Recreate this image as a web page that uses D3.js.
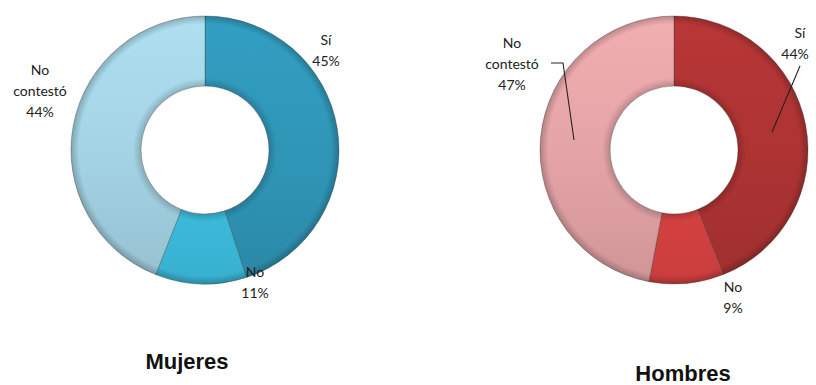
<!DOCTYPE html>
<html>
<head>
<meta charset="utf-8">
<script src="https://cdn.jsdelivr.net/npm/d3@7"></script>
<style>
  html, body { margin: 0; padding: 0; background: #fff; }
  svg { display: block; }
</style>
</head>
<body>
<svg id="chart" width="816" height="385"></svg>
<script>
// Survey answers by group
const categories = ["Sí", "No", "No contestó"];
const mujeresValues = [45, 11, 44];
const hombresValues = [44, 9, 47];
const groupTitles = ["Mujeres", "Hombres"];
const mujeresColors = ["#2f95b6", "#3dc0e2", "#a3d2e3"];
const hombresColors = ["#ad3333", "#dd4343", "#e3a3a6"];

const svg = d3.select("#chart");
const defs = svg.append("defs");

const outerR = 134, innerR = 64;
const pie = d3.pie().sort(null).value(d => d.value);
const arc = d3.arc().innerRadius(innerR).outerRadius(outerR);

// Donut layout per group
const charts = [
  {
    id: "m", title: groupTitles[0], values: mujeresValues, colors: mujeresColors,
    cx: 205, cy: 150, titleX: 187, titleY: 369,
    labels: [
      { x: 326, y: 40 },
      { x: 255, y: 272 },
      { x: 40, y: 70 }
    ],
    leaders: []
  },
  {
    id: "h", title: groupTitles[1], values: hombresValues, colors: hombresColors,
    cx: 674, cy: 150, titleX: 683, titleY: 381,
    labels: [
      { x: 797, y: 33, dx: [3, -2] },
      { x: 733, y: 287 },
      { x: 512, y: 43 }
    ],
    leaders: [
      { slice: 0, pts: [[800, 66], [772, 132]] },
      { slice: 2, pts: [[551, 63], [563, 63], [574, 140]] }
    ]
  }
];

charts.forEach(c => {
  const data = categories.map((name, i) => ({ name, value: c.values[i], color: c.colors[i] }));
  const g = svg.append("g").attr("transform", `translate(${c.cx},${c.cy})`);

  // vertical shading: lighter on top, darker near the bottom
  data.forEach((d, i) => {
    const base = d3.color(d.color);
    const grad = defs.append("linearGradient")
      .attr("id", `grad-${c.id}-${i}`)
      .attr("gradientUnits", "userSpaceOnUse")
      .attr("x1", 0).attr("y1", -outerR).attr("x2", 0).attr("y2", outerR);
    grad.append("stop").attr("offset", "0%").attr("stop-color", base.brighter(0.18));
    grad.append("stop").attr("offset", "55%").attr("stop-color", base);
    grad.append("stop").attr("offset", "100%").attr("stop-color", base.darker(0.25));
  });

  // bevel: soft rim shading along the outer and inner edges
  const rim = defs.append("radialGradient")
    .attr("id", `rim-${c.id}`)
    .attr("gradientUnits", "userSpaceOnUse")
    .attr("cx", 0).attr("cy", 0).attr("r", outerR);
  [[0, 0.35], [innerR / outerR, 0.18], [(innerR + 8) / outerR, 0], [(outerR - 8) / outerR, 0], [1, 0.22]]
    .forEach(([o, a]) => rim.append("stop").attr("offset", o).attr("stop-color", "#000").attr("stop-opacity", a));

  const arcs = pie(data);

  g.selectAll("path.slice")
    .data(arcs)
    .join("path")
    .attr("class", "slice")
    .attr("d", arc)
    .attr("fill", (d, i) => `url(#grad-${c.id}-${i})`)
    .attr("stroke", "rgba(60,60,60,0.45)")
    .attr("stroke-width", 0.8);

  g.selectAll("path.rim")
    .data(arcs)
    .join("path")
    .attr("class", "rim")
    .attr("d", arc)
    .attr("fill", `url(#rim-${c.id})`)
    .attr("pointer-events", "none");

  // leader lines
  c.leaders.forEach(l => {
    svg.append("path")
      .attr("d", d3.line()(l.pts))
      .attr("fill", "none")
      .attr("stroke", "#222")
      .attr("stroke-width", 1.1);
  });

  // data labels: category name and percentage
  arcs.forEach((a, i) => {
    const pos = c.labels[i];
    const lines = a.data.name === "No contestó" ? ["No", "contestó"] : [a.data.name];
    lines.push(`${a.data.value}%`);
    const t = svg.append("text")
      .attr("font-family", "Lato, 'Open Sans', sans-serif")
      .attr("font-size", 14)
      .attr("fill", "#222")
      .attr("text-anchor", "middle");
    lines.forEach((s, k) => {
      const off = pos.dx ? (pos.dx[k] || 0) : 0;
      t.append("tspan")
        .attr("x", pos.x + off)
        .attr("y", pos.y + k * 21)
        .attr("dy", "0.35em")
        .text(s);
    });
  });

  svg.append("text")
    .attr("x", c.titleX)
    .attr("y", c.titleY)
    .attr("text-anchor", "middle")
    .attr("font-family", "'Liberation Sans', Arial, sans-serif")
    .attr("font-weight", "bold")
    .attr("font-size", 22)
    .attr("fill", "#111")
    .text(c.title);
});
</script>
</body>
</html>
